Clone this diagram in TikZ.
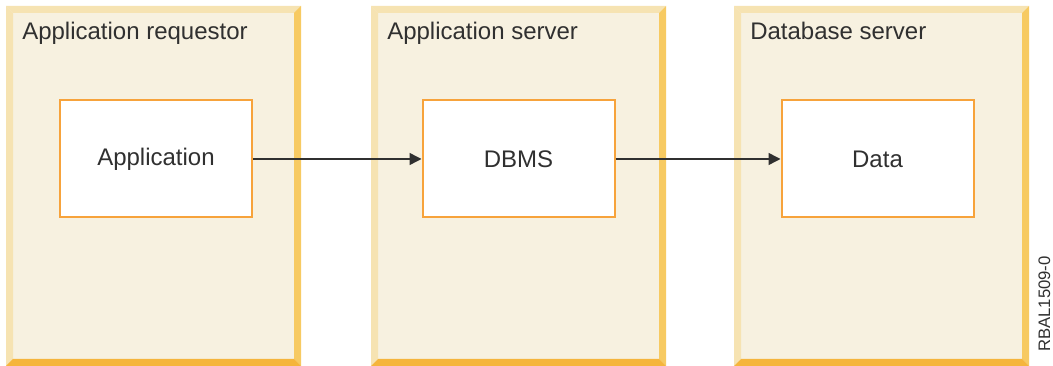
\documentclass[tikz,border=0pt]{standalone}
\usepackage{xcolor}
\usepackage{fontspec}
\setmainfont{Liberation Sans}
\usetikzlibrary{arrows.meta}
\usetikzlibrary{positioning, calc}

\definecolor{panelfill}{HTML}{F7F1E0}
\definecolor{bevellight}{HTML}{F6E3B2}
\definecolor{bevelright}{HTML}{F7CA62}
\definecolor{bevelbottom}{HTML}{F5B53C}
\definecolor{boxorange}{HTML}{F7A33B}
\definecolor{inkgray}{HTML}{303030}

\tikzset{
  title/.style={anchor=base west, inner sep=0pt, text=inkgray, font=\fontsize{18}{22}\selectfont},
  compbox/.style={draw=boxorange, line width=1.5pt, fill=white, minimum width=144pt,
    minimum height=87.75pt, text=inkgray, font=\fontsize{18}{22}\selectfont},
  flow/.style={-{Triangle[length=9pt,width=9pt]}, line width=1.1pt, draw=inkgray}
}

\begin{document}
\begin{tikzpicture}[x=0.75pt,y=-0.75pt]
    \def\W{295}
    \def\B{7}
    \def\top{6}
    \def\bot{366}
    \useasboundingbox (0,0) rectangle (1053,366);

    % PANELS
    \foreach \L in {6,371,734} {
      \pgfmathsetmacro{\R}{\L+\W}
      \fill[panelfill] (\L,\top) rectangle (\R,\bot);
      \fill[bevellight] (\L,\top) -- (\R,\top) -- (\R-\B,\top+\B) -- (\L+\B,\top+\B) -- cycle;
      \fill[bevellight] (\L,\top) -- (\L+\B,\top+\B) -- (\L+\B,\bot-\B) -- (\L,\bot) -- cycle;
      \fill[bevelright] (\R,\top) -- (\R,\bot) -- (\R-\B,\bot-\B) -- (\R-\B,\top+\B) -- cycle;
      \fill[bevelbottom] (\L,\bot) -- (\R,\bot) -- (\R-\B,\bot-\B) -- (\L+\B,\bot-\B) -- cycle;
    }

    % TITLES
    \node[title] (req) at (22,40) {Application requestor};
    \node[title] (appsrv) at (387,40) {Application server};
    \node[title] (dbsrv) at (750,40) {Database server};

    % COMPONENTS
    \node[compbox] (app) at (156,159) {Application};
    \node[compbox] (dbms) at (518.5,159) {DBMS};
    \node[compbox] (data) at (877.5,159) {Data};

    \draw[flow] (app.east) -- (dbms.west);
    \draw[flow] (dbms.east) -- (data.west);

    \node[rotate=90, inner sep=0pt, text=inkgray, font=\fontsize{12.5}{15}\selectfont] (figid) at (1044.5,304) {RBAL1509-0};
  \end{tikzpicture}
\end{document}
